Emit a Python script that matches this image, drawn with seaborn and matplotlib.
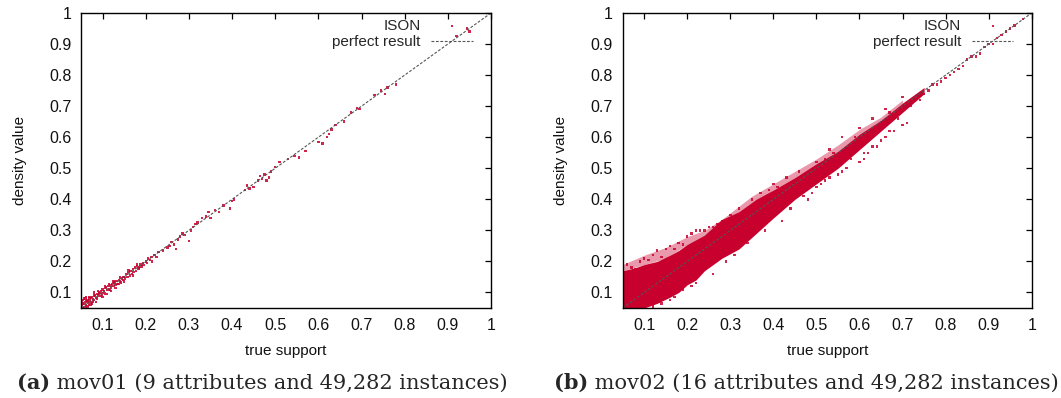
import matplotlib
matplotlib.use("Agg")
import matplotlib.pyplot as plt
import seaborn as sns
import pandas as pd

# ---- data ----
perfect_x = [0.05, 1.0]
perfect_y = [0.05, 1.0]

# mov01: (true support, density value)
mov01_true = [0.050, 0.052, 0.055, 0.055, 0.058, 0.060, 0.062, 0.065, 0.066, 0.070,
              0.070, 0.072, 0.075, 0.078, 0.080, 0.080, 0.083, 0.085, 0.088, 0.090,
              0.092, 0.095, 0.097, 0.100, 0.100, 0.103, 0.105, 0.107, 0.110, 0.112,
              0.115, 0.118, 0.120, 0.122, 0.125, 0.127, 0.130, 0.132, 0.135, 0.138,
              0.140, 0.143, 0.145, 0.148, 0.150, 0.152, 0.155, 0.158, 0.160, 0.163,
              0.165, 0.168, 0.170, 0.172, 0.175, 0.178, 0.180, 0.183, 0.185, 0.188,
              0.190, 0.193, 0.195, 0.200, 0.203, 0.205, 0.210, 0.213, 0.215, 0.220,
              0.225, 0.230, 0.240, 0.250, 0.255, 0.260, 0.265, 0.270, 0.275, 0.280,
              0.285, 0.290, 0.300, 0.305, 0.310, 0.315, 0.320, 0.330, 0.340, 0.345,
              0.350, 0.360, 0.370, 0.380, 0.395, 0.400, 0.405, 0.430, 0.435, 0.440,
              0.450, 0.460, 0.465, 0.470, 0.475, 0.480, 0.485, 0.490, 0.500, 0.510,
              0.530, 0.545, 0.555, 0.570, 0.600, 0.610, 0.620, 0.625, 0.630, 0.640,
              0.660, 0.675, 0.690, 0.695, 0.730, 0.745, 0.755, 0.760, 0.780, 0.920,
              0.945, 0.950, 0.058, 0.063, 0.068, 0.073, 0.077, 0.082, 0.087, 0.093,
              0.098, 0.108, 0.117, 0.128, 0.137, 0.147, 0.055, 0.060, 0.065, 0.070,
              0.075, 0.080, 0.085, 0.090, 0.100, 0.105, 0.110, 0.115, 0.120, 0.125,
              0.130, 0.140, 0.150, 0.160, 0.170, 0.180, 0.062, 0.072, 0.052, 0.057]
mov01_dens = [0.055, 0.060, 0.050, 0.065, 0.062, 0.070, 0.058, 0.075, 0.068, 0.072,
              0.080, 0.066, 0.085, 0.078, 0.075, 0.090, 0.088, 0.082, 0.095, 0.090,
              0.100, 0.088, 0.105, 0.098, 0.110, 0.105, 0.097, 0.115, 0.108, 0.120,
              0.110, 0.122, 0.115, 0.128, 0.120, 0.130, 0.125, 0.137, 0.128, 0.140,
              0.135, 0.132, 0.145, 0.140, 0.150, 0.145, 0.160, 0.150, 0.165, 0.155,
              0.170, 0.160, 0.175, 0.165, 0.180, 0.170, 0.185, 0.177, 0.180, 0.190,
              0.183, 0.195, 0.188, 0.200, 0.195, 0.210, 0.205, 0.215, 0.200, 0.220,
              0.215, 0.230, 0.235, 0.245, 0.250, 0.262, 0.255, 0.240, 0.270, 0.280,
              0.290, 0.285, 0.265, 0.300, 0.310, 0.320, 0.325, 0.340, 0.345, 0.360,
              0.340, 0.365, 0.360, 0.380, 0.370, 0.395, 0.400, 0.430, 0.445, 0.435,
              0.440, 0.460, 0.475, 0.465, 0.480, 0.460, 0.470, 0.490, 0.505, 0.520,
              0.530, 0.540, 0.535, 0.555, 0.585, 0.580, 0.600, 0.610, 0.625, 0.640,
              0.650, 0.680, 0.695, 0.690, 0.735, 0.750, 0.740, 0.760, 0.770, 0.925,
              0.950, 0.940, 0.052, 0.072, 0.060, 0.082, 0.070, 0.092, 0.080, 0.098,
              0.092, 0.118, 0.108, 0.132, 0.128, 0.150, 0.075, 0.080, 0.055, 0.085,
              0.065, 0.100, 0.070, 0.105, 0.085, 0.120, 0.095, 0.128, 0.105, 0.135,
              0.115, 0.148, 0.135, 0.172, 0.155, 0.190, 0.085, 0.060, 0.070, 0.080]

# mov02: dense core of the band (envelope over true support)
mov02_core_x = [0.05, 0.08, 0.10, 0.13, 0.16, 0.18, 0.20, 0.22, 0.24, 0.28, 0.32,
                0.36, 0.40, 0.45, 0.50, 0.55, 0.60, 0.65, 0.70, 0.75]
mov02_core_hi = [0.17, 0.18, 0.19, 0.20, 0.22, 0.235, 0.255, 0.27, 0.285, 0.335, 0.36,
                 0.40, 0.43, 0.47, 0.515, 0.555, 0.61, 0.655, 0.71, 0.76]
mov02_core_lo = [0.05, 0.05, 0.05, 0.065, 0.085, 0.10, 0.125, 0.14, 0.17, 0.21, 0.24,
                 0.29, 0.34, 0.40, 0.45, 0.50, 0.56, 0.62, 0.68, 0.74]

# mov02: thinner spread above the core (upper fan)
mov02_fan_x = [0.05, 0.10, 0.15, 0.20, 0.24, 0.28, 0.35, 0.40, 0.45, 0.50, 0.55,
               0.60, 0.65, 0.70]
mov02_fan_hi = [0.19, 0.22, 0.245, 0.28, 0.30, 0.335, 0.41, 0.45, 0.49, 0.53, 0.575,
                0.625, 0.665, 0.72]
mov02_fan_lo = [0.17, 0.19, 0.21, 0.255, 0.285, 0.32, 0.38, 0.43, 0.47, 0.515, 0.555,
                0.61, 0.655, 0.71]

# mov02: sparse points outside the core
mov02_true = [0.06, 0.07, 0.09, 0.10, 0.12, 0.13, 0.15, 0.16, 0.18, 0.20,
              0.21, 0.22, 0.23, 0.25, 0.27, 0.28, 0.30, 0.32, 0.35, 0.37,
              0.40, 0.43, 0.46, 0.50, 0.53, 0.56, 0.60, 0.63, 0.66, 0.70,
              0.45, 0.47, 0.48, 0.50, 0.52, 0.55, 0.57, 0.60, 0.62, 0.64,
              0.66, 0.68, 0.70, 0.71, 0.72, 0.75, 0.78, 0.80, 0.82, 0.85,
              0.87, 0.90, 0.93, 0.95, 0.98, 0.12, 0.14, 0.16, 0.17, 0.19,
              0.21, 0.22, 0.26, 0.29, 0.31, 0.34, 0.38, 0.42, 0.44, 0.49,
              0.58, 0.61, 0.73, 0.76, 0.77, 0.79, 0.81, 0.83, 0.84, 0.86,
              0.88, 0.89, 0.91, 0.92, 0.94, 0.96, 0.08, 0.11, 0.14, 0.17,
              0.19, 0.24, 0.26, 0.33, 0.39, 0.41, 0.52, 0.54, 0.59, 0.67,
              0.51, 0.53, 0.56, 0.58, 0.61, 0.63, 0.65, 0.67, 0.69, 0.74]
mov02_dens = [0.19, 0.18, 0.20, 0.21, 0.22, 0.235, 0.24, 0.25, 0.26, 0.28,
              0.29, 0.30, 0.30, 0.31, 0.32, 0.33, 0.35, 0.37, 0.40, 0.42,
              0.45, 0.47, 0.49, 0.52, 0.56, 0.60, 0.63, 0.66, 0.69, 0.73,
              0.42, 0.41, 0.40, 0.44, 0.46, 0.48, 0.50, 0.52, 0.55, 0.57,
              0.60, 0.62, 0.64, 0.645, 0.70, 0.74, 0.77, 0.79, 0.81, 0.85,
              0.86, 0.90, 0.93, 0.95, 0.98, 0.055, 0.065, 0.075, 0.085, 0.11,
              0.12, 0.13, 0.16, 0.20, 0.22, 0.26, 0.30, 0.33, 0.37, 0.42,
              0.54, 0.55, 0.72, 0.75, 0.77, 0.78, 0.80, 0.82, 0.83, 0.86,
              0.87, 0.89, 0.90, 0.92, 0.94, 0.96, 0.175, 0.205, 0.215, 0.24,
              0.255, 0.30, 0.31, 0.35, 0.43, 0.44, 0.53, 0.55, 0.60, 0.68,
              0.45, 0.47, 0.49, 0.53, 0.53, 0.57, 0.59, 0.62, 0.66, 0.72]

captions = [("(a)", " mov01 (9 attributes and 49,282 instances)"),
            ("(b)", " mov02 (16 attributes and 49,282 instances)")]
ticks = [0.1, 0.2, 0.3, 0.4, 0.5, 0.6, 0.7, 0.8, 0.9, 1.0]
tick_labels = ["0.1", "0.2", "0.3", "0.4", "0.5", "0.6", "0.7", "0.8", "0.9", "1"]

RED = "#c8002d"
GREY = "#555555"
INK = "#111111"

sns.set_theme(style="white")
plt.rcParams["font.family"] = ["Liberation Sans", "DejaVu Sans"]

fig = plt.figure(figsize=(10.61, 3.98), dpi=100)
ax_a = fig.add_axes([81 / 1061, 1 - 308 / 398, 410 / 1061, 295 / 398])
ax_b = fig.add_axes([622.7 / 1061, 1 - 308 / 398, 409 / 1061, 295 / 398])

df_a = pd.DataFrame({"true": mov01_true, "dens": mov01_dens})
df_b = pd.DataFrame({"true": mov02_true, "dens": mov02_dens})
df_perfect = pd.DataFrame({"x": perfect_x, "y": perfect_y})

# panel a
sns.scatterplot(data=df_a, x="true", y="dens", ax=ax_a, marker="s", s=3,
                color=RED, edgecolor="none", alpha=0.85, label="ISON")

# panel b: dense core drawn as an area, sparse points on top
ax_b.fill_between(mov02_fan_x, mov02_fan_lo, mov02_fan_hi, color=RED,
                  alpha=0.4, linewidth=0)
ax_b.fill_between(mov02_core_x, mov02_core_lo, mov02_core_hi, color=RED,
                  linewidth=0)
sns.scatterplot(data=df_b, x="true", y="dens", ax=ax_b, marker="s", s=3,
                color=RED, edgecolor="none", alpha=0.85, label="ISON")

for ax, (bold, rest) in zip([ax_a, ax_b], captions):
    sns.lineplot(data=df_perfect, x="x", y="y", ax=ax, color=GREY, lw=0.8,
                 linestyle=(0, (2.5, 1.5)), label="perfect result")
    ax.set_xlim(0.05, 1.0)
    ax.set_ylim(0.05, 1.0)
    ax.set_xticks(ticks)
    ax.set_xticklabels(tick_labels)
    ax.set_yticks(ticks)
    ax.set_yticklabels(tick_labels)
    ax.tick_params(direction="in", length=4.5, width=0.9, color="black",
                   top=True, right=True, labelsize=11.5, pad=7,
                   labelcolor=INK)
    for sp in ax.spines.values():
        sp.set_visible(True)
        sp.set_color("black")
        sp.set_linewidth(1.0)
    ax.set_xlabel("true support", fontsize=11, labelpad=8, color=INK)
    ax.set_ylabel("density value", fontsize=11, labelpad=16, color=INK)
    ax.legend(loc="upper right", bbox_to_anchor=(0.97, 1.0), frameon=False,
              markerfirst=False, fontsize=11, handlelength=2.7,
              handletextpad=0.7, borderaxespad=0.0, labelspacing=0.15,
              markerscale=0.8)
    fig.text(0, 0.038, bold, fontsize=15, family="DejaVu Serif",
             weight="bold", ha="right", va="center")
    fig.text(0, 0.038, rest, fontsize=15, family="DejaVu Serif",
             ha="left", va="center")

fig.canvas.draw()
# centre each caption line under its panel
r = fig.canvas.get_renderer()
caption_centres = [262, 806]
for i, centre in enumerate(caption_centres):
    tb, tr = fig.texts[2 * i], fig.texts[2 * i + 1]
    w1 = tb.get_window_extent(r).width
    w2 = tr.get_window_extent(r).width
    left = centre - (w1 + w2) / 2
    tb.set_x((left + w1) / 1061)
    tr.set_x((left + w1) / 1061)

fig.savefig("out.png", dpi=100)
